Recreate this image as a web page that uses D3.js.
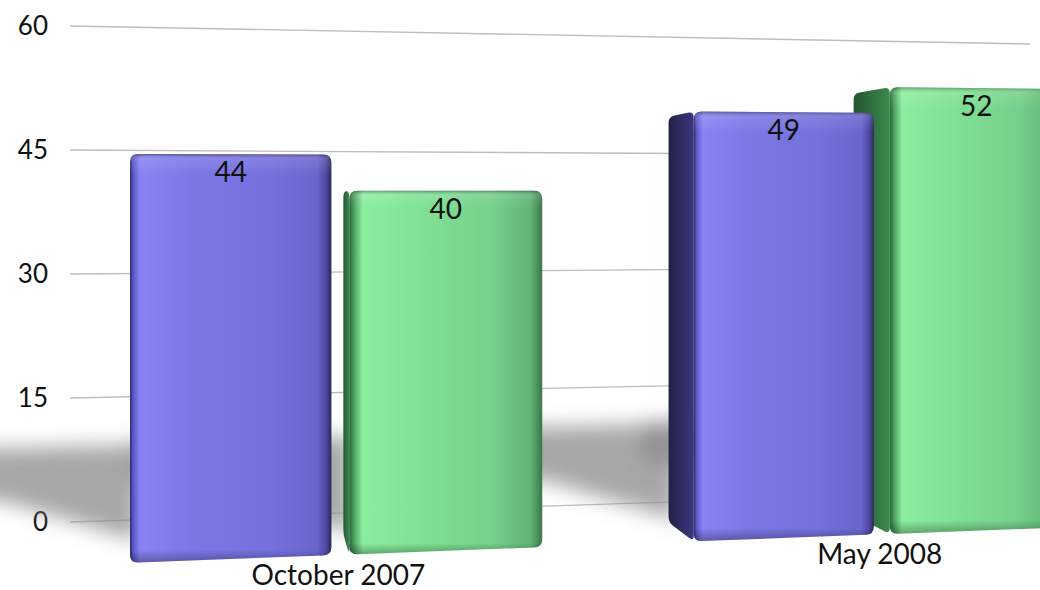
<!DOCTYPE html>
<html>
<head>
<meta charset="utf-8">
<script src="https://cdn.jsdelivr.net/npm/d3@7"></script>
<style>
  html, body { margin: 0; padding: 0; background: #fff; }
  svg { display: block; font-family: "Lato", "Open Sans", sans-serif; }
</style>
</head>
<body>
<script>
// ---------- data ----------
const categories = ["October 2007", "May 2008"];
const seriesKeys = ["blue", "green"];
const blueValues = [44, 49];
const greenValues = [40, 52];
const yTicks = [0, 15, 30, 45, 60];

// ---------- layout ----------
const W = 1040, H = 590;
const svg = d3.select("body").append("svg").attr("width", W).attr("height", H);
const defs = svg.append("defs");

// world (flat) band scales
const xGroup = d3.scaleBand().domain(categories).range([0, 1]).paddingInner(0.28).paddingOuter(0);
const xSeries = d3.scaleBand().domain(seriesKeys).range([0, xGroup.bandwidth()]).paddingInner(0.083);
// perspective horizontal mapping of the world coordinate
const px = u => 130 + 1026 * u / (1 + 0.1 * u);

// vertical perspective: baseline and value scale depend on screen x
const baseAt = d3.scaleLinear().domain([229, 968]).range([559, 531]);
const pxPerUnit = d3.scaleLinear().domain([229, 968]).range([9.2, 8.52]);
const valueScaleAt = x => d3.scaleLinear().domain([0, 60]).range([baseAt(x), baseAt(x) - 60 * pxPerUnit(x)]);

// gridline scales (left end and right end of receding grid)
const gridX0 = 70, gridX1 = 1030;
const yLeft = d3.scaleLinear().domain([0, 60]).range([522, 26]);
const yRight = d3.scaleLinear().domain([0, 60]).range([490, 44]);

// vanishing point for side faces
const VP = [244, 202], depthT = 0.056;
const back = p => [p[0] + depthT * (VP[0] - p[0]), p[1] + depthT * (VP[1] - p[1])];

// ---------- gradients ----------
function hGrad(id, stops) {
  const g = defs.append("linearGradient").attr("id", id).attr("x1", 0).attr("x2", 1).attr("y1", 0).attr("y2", 0);
  stops.forEach(s => g.append("stop").attr("offset", s[0]).attr("stop-color", s[1]).attr("stop-opacity", s[2] == null ? 1 : s[2]));
}
function vGrad(id, stops) {
  const g = defs.append("linearGradient").attr("id", id).attr("x1", 0).attr("x2", 0).attr("y1", 0).attr("y2", 1);
  stops.forEach(s => g.append("stop").attr("offset", s[0]).attr("stop-color", s[1]).attr("stop-opacity", s[2] == null ? 1 : s[2]));
}
hGrad("frontBlue", [[0, "#2c2a66"], [0.015, "#5a56c4"], [0.05, "#8783f4"], [0.3, "#7b77e6"], [0.7, "#7470dc"], [0.93, "#6a65cc"], [0.975, "#4c479f"], [1, "#29275a"]]);
hGrad("frontGreen", [[0, "#2a6638"], [0.025, "#4c9f60"], [0.07, "#8bee9f"], [0.35, "#80e294"], [0.75, "#74d08a"], [0.94, "#60b276"], [1, "#3a7649"]]);
hGrad("sideBlue", [[0, "#222144"], [1, "#3a3880"]]);
hGrad("sideGreen", [[0, "#245530"], [1, "#3c8a4d"]]);
vGrad("bevel", [[0, "#000", 0.35], [0.012, "#fff", 0.12], [0.05, "#fff", 0], [0.97, "#000", 0], [1, "#000", 0.3]]);

const blur = defs.append("filter").attr("id", "shadowBlur").attr("x", "-50%").attr("y", "-50%").attr("width", "200%").attr("height", "200%");
blur.append("feGaussianBlur").attr("stdDeviation", 10);

// ---------- gridlines ----------
const grid = svg.append("g");
grid.selectAll("line.g").data(yTicks).join("line")
  .attr("x1", gridX0).attr("x2", gridX1)
  .attr("y1", d => yLeft(d)).attr("y2", d => yRight(d))
  .attr("stroke", "#bdbdbd").attr("stroke-width", 1.3);

// ---------- axis labels ----------
const axis = svg.append("g").attr("transform", "translate(48,0)")
  .call(d3.axisLeft(yLeft).tickValues(yTicks).tickSize(0).tickPadding(0));
axis.select(".domain").remove();
axis.selectAll("text").attr("font-size", 26).attr("font-weight", 400).attr("fill", "#111")
  .attr("font-family", "Lato, 'Open Sans', sans-serif");

// ---------- bar geometry ----------
const bars = [];
categories.forEach((c, i) => {
  [["blue", blueValues[i]], ["green", greenValues[i]]].forEach(([k, v]) => {
    const u0 = xGroup(c) + xSeries(k), u1 = u0 + xSeries.bandwidth();
    const xl = px(u0), xr = px(u1);
    const sl = valueScaleAt(xl), sr = valueScaleAt(xr);
    bars.push({ cat: c, key: k, value: v, xl, xr,
      tl: [xl, sl(v)], tr: [xr, sr(v)], br: [xr, sr(0)], bl: [xl, sl(0)] });
  });
});

function roundedPath(pts, r) {
  const n = pts.length;
  let d = "";
  for (let i = 0; i < n; i++) {
    const p = pts[i], prev = pts[(i - 1 + n) % n], next = pts[(i + 1) % n];
    const d1 = Math.hypot(prev[0] - p[0], prev[1] - p[1]), d2 = Math.hypot(next[0] - p[0], next[1] - p[1]);
    const r1 = Math.min(r, d1 / 2), r2 = Math.min(r, d2 / 2);
    const a = [p[0] + (prev[0] - p[0]) * r1 / d1, p[1] + (prev[1] - p[1]) * r1 / d1];
    const b = [p[0] + (next[0] - p[0]) * r2 / d2, p[1] + (next[1] - p[1]) * r2 / d2];
    d += (i === 0 ? "M" : "L") + a[0] + "," + a[1] + "Q" + p[0] + "," + p[1] + " " + b[0] + "," + b[1];
  }
  return d + "Z";
}

// ---------- shadows ----------
const shadowG = svg.append("g").attr("filter", "url(#shadowBlur)");
bars.forEach(b => {
  const hasSide = b.xl > VP[0];
  const x0 = hasSide ? back(b.bl)[0] : b.xl;
  const base = b.bl[1];
  const pts = [[x0 + 8, base - 118], [x0 + 8, base - 22], [x0 - 120, base - 60], [x0 - 210, base - 72], [x0 - 210, base - 112]];
  shadowG.append("path").attr("d", "M" + pts.join("L") + "Z").attr("fill", "#8a8a8a").attr("fill-opacity", 0.75);
});

// ---------- bars (drawn right to left) ----------
const barG = svg.append("g");
bars.slice().reverse().forEach(b => {
  const g = barG.append("g");
  if (b.xl > VP[0]) {
    const side = [back(b.tl), b.tl, b.bl, back(b.bl)];
    g.append("path").attr("d", roundedPath(side, 6))
      .attr("fill", b.key === "blue" ? "url(#sideBlue)" : "url(#sideGreen)");
  }
  const front = [b.tl, b.tr, b.br, b.bl];
  g.append("path").attr("d", roundedPath(front, 8))
    .attr("fill", b.key === "blue" ? "url(#frontBlue)" : "url(#frontGreen)");
  g.append("path").attr("d", roundedPath(front, 8)).attr("fill", "url(#bevel)");
});

// ---------- value labels ----------
svg.append("g").selectAll("text").data(bars).join("text")
  .attr("x", d => (d.xl + d.xr) / 2)
  .attr("y", d => (d.tl[1] + d.tr[1]) / 2 + 28)
  .attr("text-anchor", "middle")
  .attr("font-size", 28).attr("font-weight", 400).attr("fill", "#111")
  .text(d => d.value);

// ---------- category labels ----------
svg.append("g").selectAll("text").data(categories).join("text")
  .attr("x", d => px(xGroup(d) + xGroup.bandwidth() / 2) - 2)
  .attr("y", d => baseAt(px(xGroup(d) + xGroup.bandwidth() / 2)) + 30)
  .attr("text-anchor", "middle")
  .attr("font-size", 28).attr("font-weight", 400).attr("fill", "#111")
  .text(d => d);
</script>
</body>
</html>
